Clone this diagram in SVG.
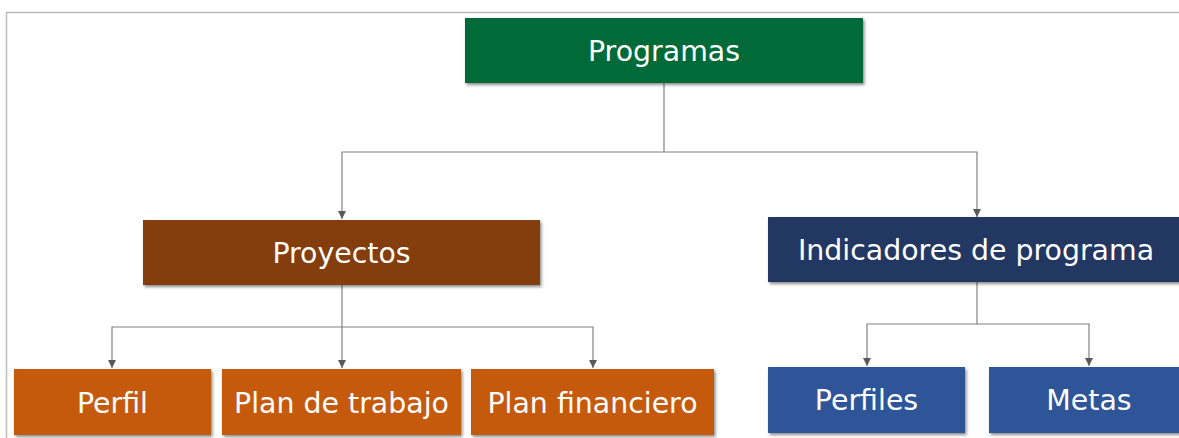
<svg xmlns="http://www.w3.org/2000/svg" width="1179" height="438" viewBox="0 0 1179 438">
<style>
.box{filter:url(#sh)}
.lbl{font-family:"DejaVu Sans","Verdana",sans-serif;font-size:28.4px;fill:#ffffff;text-anchor:middle}
.con{fill:none;stroke:#808080;stroke-width:1.2}
</style>
<defs>
<filter id="sh" x="-5%" y="-10%" width="115%" height="130%">
<feDropShadow dx="1.5" dy="2" stdDeviation="1.5" flood-color="#000" flood-opacity="0.45"/>
</filter>
<marker id="ar" viewBox="0 0 10 10" refX="10" refY="5" markerWidth="8" markerHeight="8" markerUnits="userSpaceOnUse" orient="auto">
<path d="M0,0 L10,5 L0,10 Z" fill="#595959"/>
</marker>
</defs>
<rect width="1179" height="438" fill="#ffffff"/>
<path d="M6.5,438 V12.5 H1179" fill="none" stroke="#bdbdbd" stroke-width="1.5"/>
<g id="connectors">
<path class="con" d="M664,83 V152 H342 V219" marker-end="url(#ar)"/>
<path class="con" d="M664,152 H977 V217" marker-end="url(#ar)"/>
<path class="con" d="M342,285 V327 H112 V368" marker-end="url(#ar)"/>
<path class="con" d="M342,327 V368" marker-end="url(#ar)"/>
<path class="con" d="M342,327 H593 V368" marker-end="url(#ar)"/>
<path class="con" d="M977,282 V324 H867 V366" marker-end="url(#ar)"/>
<path class="con" d="M977,324 H1089 V366" marker-end="url(#ar)"/>
</g>
<g id="programas"><rect class="box" x="465" y="18" width="398" height="65" fill="#056A38"/><text class="lbl" x="664" y="61">Programas</text></g>
<g id="proyectos"><rect class="box" x="143" y="220" width="397" height="65" fill="#843C0C"/><text class="lbl" x="341.5" y="263">Proyectos</text></g>
<g id="indicadores"><rect class="box" x="768" y="217" width="418" height="65" fill="#203864"/><text class="lbl" x="976" y="260">Indicadores de programa</text></g>
<g id="perfil"><rect class="box" x="14" y="369" width="197" height="66" fill="#C55A11"/><text class="lbl" x="112.5" y="413">Perfil</text></g>
<g id="plan-trabajo"><rect class="box" x="222" y="369" width="239" height="66" fill="#C55A11"/><text class="lbl" x="341.5" y="413">Plan de trabajo</text></g>
<g id="plan-financiero"><rect class="box" x="471" y="369" width="243" height="66" fill="#C55A11"/><text class="lbl" x="592.5" y="413">Plan financiero</text></g>
<g id="perfiles"><rect class="box" x="768" y="367" width="197" height="66" fill="#2F5597"/><text class="lbl" x="866.5" y="410">Perfiles</text></g>
<g id="metas"><rect class="box" x="989" y="367" width="200" height="66" fill="#2F5597"/><text class="lbl" x="1089" y="410">Metas</text></g>
</svg>
